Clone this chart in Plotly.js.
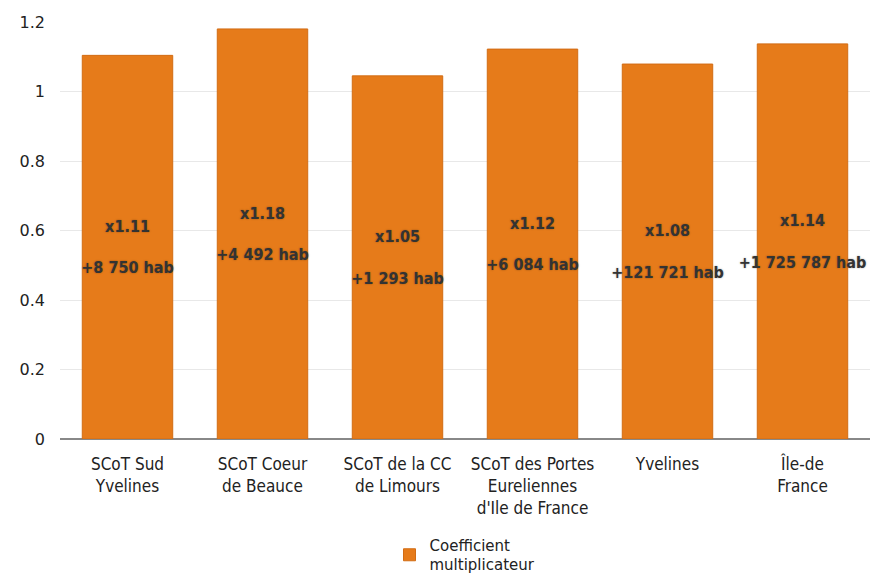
<!DOCTYPE html>
<html><head><meta charset="utf-8">
<script src="https://cdn.plot.ly/plotly-3.0.1.min.js"></script>
<style>body{margin:0;background:#fff}#c{width:872px;height:576px}</style>
</head><body><div id="c"></div>
<script>
const categories = ["SCoT Sud<br>Yvelines","SCoT Coeur<br>de Beauce","SCoT de la CC<br>de Limours","SCoT des Portes<br>Eureliennes<br>d'Ile de France","Yvelines","Île-de<br>France"];
const coefficients = [1.104, 1.180, 1.045, 1.122, 1.079, 1.137];
const coefLabels = ["x1.11","x1.18","x1.05","x1.12","x1.08","x1.14"];
const popGain = ["+8 750 hab","+4 492 hab","+1 293 hab","+6 084 hab","+121 721 hab","+1 725 787 hab"];
const yTicks = [0,0.2,0.4,0.6,0.8,1,1.2];
const yTickText = ["0","0.2","0.4","0.6","0.8","1","1.2"];

const barText = coefLabels.map((c,i)=>c+"<br><br>"+popGain[i]);

const trace = {
  type:'bar', x:categories, y:coefficients, name:'Coefficient<br>multiplicateur',
  text:barText, textposition:'inside', insidetextanchor:'middle', textangle:0,
  constraintext:'none', cliponaxis:false,
  hoverinfo:'none',
  textfont:{family:'DejaVu Sans Condensed, DejaVu Sans', size:16, color:'#333333', weight:'bold', shadow:'0px 0px 2px rgba(0,0,0,0.35)'},
  marker:{color:'#E67B1A', line:{color:'#D26C14', width:1}},
  width:0.67
};
const layout = {
  width:872, height:576,
  margin:{l:60, r:2, t:22, b:137, autoexpand:false},
  paper_bgcolor:'#fff', plot_bgcolor:'#fff',
  xaxis:{tickfont:{family:'DejaVu Sans Condensed, DejaVu Sans', size:17, color:'#222'}, showgrid:false, ticks:'', fixedrange:true, ticklabelstandoff:13, automargin:false},
  yaxis:{range:[0,1.2], tickvals:yTicks, ticktext:yTickText, tickfont:{family:'DejaVu Sans', size:16, color:'#222'},
    gridcolor:'#e8e8e8', gridwidth:1, zeroline:true, zerolinecolor:'#888', zerolinewidth:1.5, ticks:'', ticklabelstandoff:14, automargin:false},
  showlegend:true,
  legend:{orientation:'h', x:0.5, xanchor:'center', y:-0.34, yanchor:'bottom', font:{family:'DejaVu Sans', size:15, color:'#222'}},
  bargap:0.33
};
Plotly.newPlot('c',[trace],layout,{staticPlot:true, displayModeBar:false});
</script></body></html>
